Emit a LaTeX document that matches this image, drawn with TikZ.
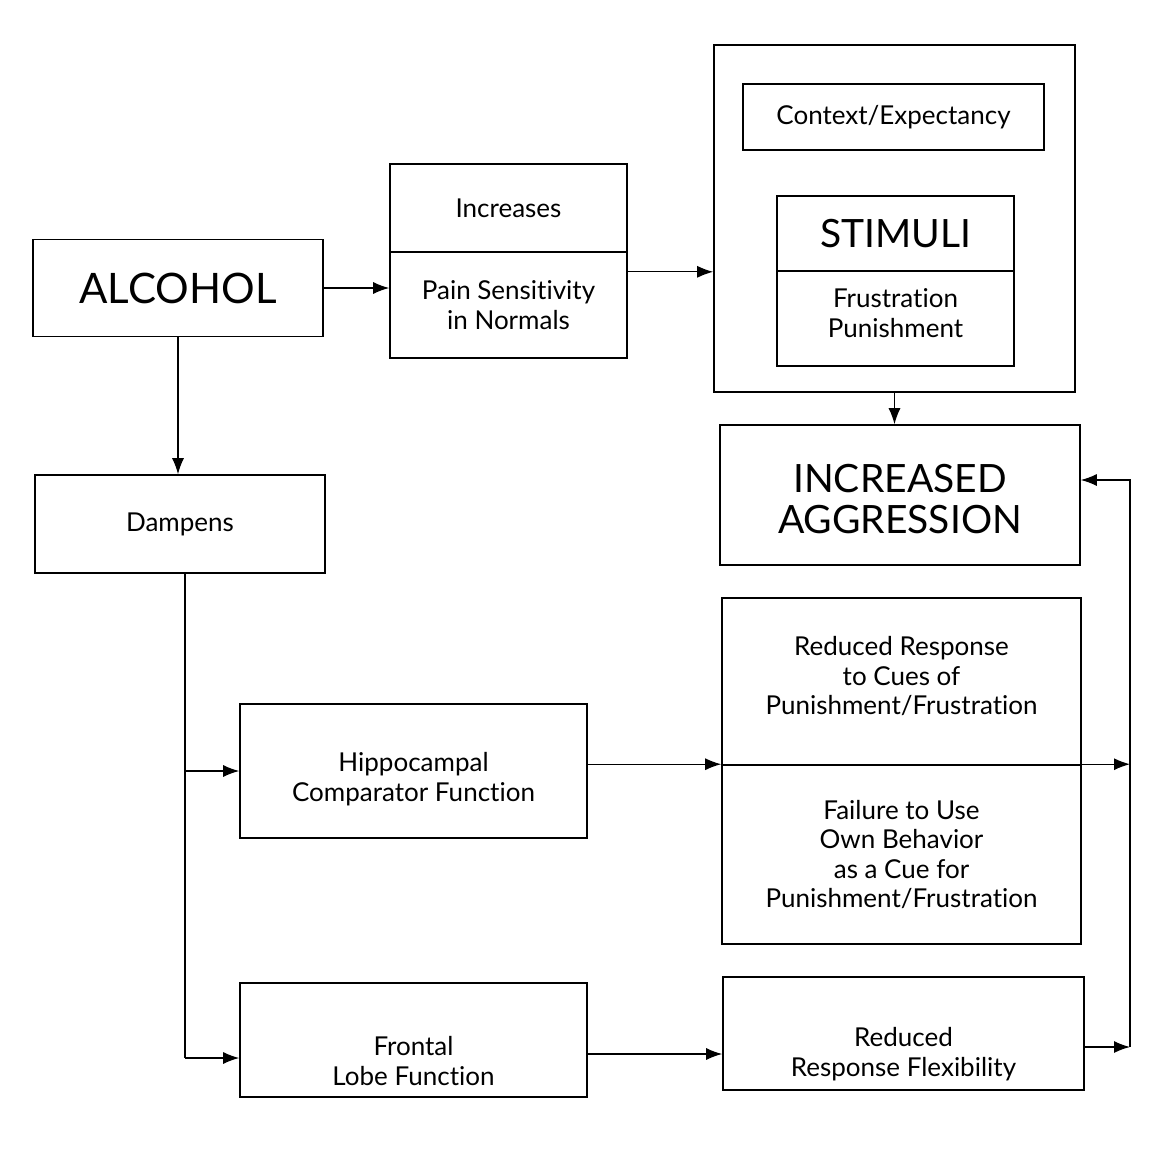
\documentclass[tikz,border=0pt]{standalone}
\usepackage{fontspec}
\setmainfont{Lato}[Ligatures={NoCommon}]
\usetikzlibrary{arrows.meta,positioning,calc}
\newcommand{\medtxt}{\fontsize{26}{29.5}\selectfont}
\newcommand{\bigtxt}{\fontsize{39}{41}\selectfont}

\begin{document}
\begin{tikzpicture}[
  x=1pt,y=-1pt,
  every node/.style={font=\medtxt,align=center,inner sep=0pt},
  box/.style 2 args={draw=black,line width=1.6pt,minimum width=#1,minimum height=#2},
  arrow/.style={-{Latex[length=16pt,width=12pt]},line width=1.2pt,color=black},
  line/.style={line width=1.2pt,color=black}
]
\useasboundingbox (0,0) rectangle (1167,1176);
% left column
\node[box={290}{97},font=\fontsize{42}{44}\selectfont] (alcohol) at (178,288) {ALCOHOL};
\node[box={290}{98}] (damp) at (180,524) {Dampens};
% pain sensitivity
\node[box={237}{88}] (inc) at (508.5,208) {Increases};
\node[box={237}{106}] (pain) at (508.5,305) {Pain Sensitivity\\in Normals};
% stimuli block
\node[box={361}{347}] (outer) at (894.5,218.5) {};
\node[box={301}{66}] (context) at (893.5,117) {Context/Expectancy};
\node[box={237}{75},font=\bigtxt] (stim) at (895.5,233.5) {STIMULI};
\node[box={237}{95}] (frust) at (895.5,318.5) {};
\node (frusttxt) at (895.5,313) {Frustration\\Punishment};
\node[box={360}{140}] (aggr) at (900,495) {};
\node[font=\bigtxt] (aggrtxt) at (900,499) {INCREASED\\AGGRESSION};
% brain functions
\node[box={347}{134}] (hippo) at (413.5,771) {};
\node (hippotxt) at (413.5,779) {Hippocampal\\Comparator Function};
\node[box={347}{114}] (frontal) at (413.5,1040) {};
\node (frontaltxt) at (413.5,1061) {Frontal\\Lobe Function};
% consequences
\node[box={359}{167}] (cues) at (901.5,681.5) {};
\node (cuestxt) at (901.5,676) {Reduced Response\\to Cues of\\Punishment/Frustration};
\node[box={359}{179}] (fail) at (901.5,854.5) {Failure to Use\\Own Behavior\\as a Cue for\\Punishment/Frustration};
\node[box={361}{113}] (flex) at (903.5,1033.5) {};
\node (flextxt) at (903.5,1054) {Reduced\\Response Flexibility};
% free ends
\coordinate (trunk) at (185,1058);
\coordinate (railtop) at (1130,480);
\coordinate (railbot) at (1130,1047);
% connectors
\draw[arrow] (alcohol.east) -- (alcohol.east -| pain.west);
\draw[arrow] (pain.east |- stim.south) -- (outer.west |- stim.south);
\draw[arrow] (outer.south) -- (outer.south |- aggr.north);
\draw[arrow] (alcohol.south) -- (alcohol.south |- damp.north);
\draw[line] (damp.south -| trunk) -- (trunk);
\draw[arrow] (trunk |- hippo.west) -- (hippo.west);
\draw[arrow] (trunk) -- (trunk -| frontal.west);
\draw[arrow] (hippo.east |- fail.north) -- (fail.north west);
\draw[arrow] (fail.north west) -- (fail.north -| railtop);
\draw[arrow] (frontal.east |- flextxt) -- (flex.west |- flextxt);
\draw[arrow] (flex.east |- railbot) -- (railbot);
\draw[arrow] (railbot) -- (railtop) -- (railtop -| aggr.east);
\end{tikzpicture}
\end{document}
